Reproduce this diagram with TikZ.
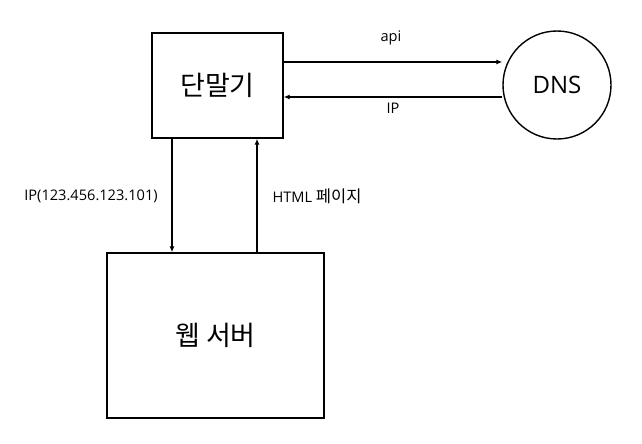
\documentclass[tikz,border=0pt]{standalone}
\usepackage{fontspec}
\setmainfont{Open Sans}
\newfontfamily\kr{Noto Sans CJK KR}
\usetikzlibrary{arrows.meta}
\begin{document}
\begin{tikzpicture}[x=1pt,y=-1pt,
  box/.style={draw,line width=1.4pt,inner sep=0pt},
  conn/.style={line width=1.2pt,-{Latex[length=6pt,width=5pt]}},
  lbl/.style={font=\fontsize{14.6}{17}\selectfont},
  big/.style={font=\fontsize{24}{28}\selectfont}]
\useasboundingbox[fill=white] (0,0) rectangle (642,444);
\node[box,minimum width=131pt,minimum height=105pt,big] (term) at (217.5,85.5) {\kr\fontsize{27}{30}\selectfont 단말기};
\node[box,circle,minimum size=108pt,big] (dns) at (557,85) {DNS};
\node[box,minimum width=217pt,minimum height=165pt,big] (web) at (215.5,335.5) {\kr\fontsize{27}{30}\selectfont 웹 서버};
\draw[conn] (term.east |- 0,62) -- (dns.west |- 0,62);
\draw[conn] (dns.west |- 0,97) -- (term.east |- 0,97);
\node[lbl] (lapi) at (391,38) {api};
\node[lbl] (lip) at (393,108) {IP};
\draw[conn] (term.south -| 172,0) -- (web.north -| 172,0);
\draw[conn] (web.north -| 257,0) -- (term.south -| 257,0);
\node[lbl] (lip2) at (91,196) {IP(123.456.123.101)};
\node[lbl] (lhtml) at (317,196) {HTML {\kr\fontsize{16.5}{17}\selectfont 페이지}};
\end{tikzpicture}
\end{document}
